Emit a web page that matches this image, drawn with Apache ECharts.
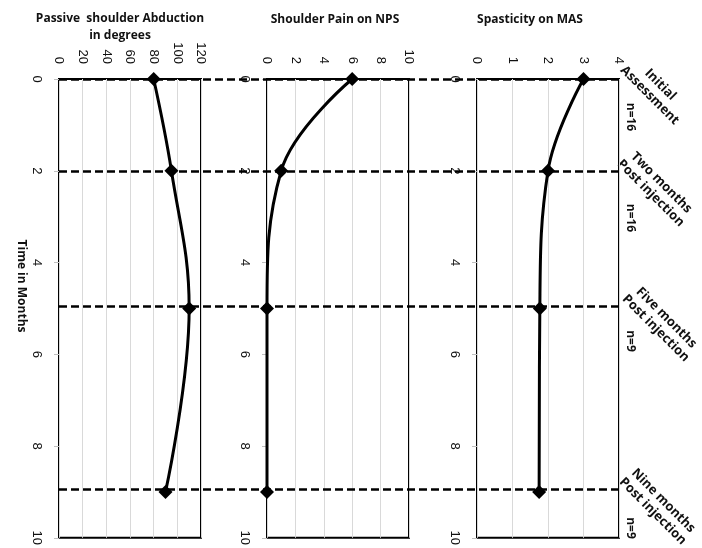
<!DOCTYPE html>
<html>
<head>
<meta charset="utf-8">
<script src="https://cdn.jsdelivr.net/npm/echarts@6/dist/echarts.min.js"></script>
<style>
  html, body { margin: 0; padding: 0; background: #fff; }
  #chart { width: 702px; height: 548px; }
</style>
</head>
<body>
<div id="chart"></div>
<script>
// months after injection at which each measure was taken
var times = [0, 2, 5, 9];
// where the dashed assessment lines sit
var assessTimes = [0, 2, 4.93, 8.9];

var abduction = [80, 95, 110, 90];   // degrees
var pain = [6, 1, 0, 0];             // NPS
var spasticity = [3, 2, 1.77, 1.75]; // MAS

var panelTitles = ["Passive  shoulder Abduction\nin degrees", "Shoulder Pain on NPS", "Spasticity on MAS"];
var valueMax = [120, 10, 4];
var valueStep = [20, 2, 1];
var timeMax = 10;
var timeStep = 2;

var assessNames = ["Initial\nAssessment", "Two months\nPost injection", "Five months\nPost injection", "Nine months\nPost injection"];
var assessN = ["n=16", "n=16", "n=9", "n=9"];

var chart = echarts.init(document.getElementById("chart"));

var gridLeft = [59, 267, 477];
var plotTop = 79, plotH = 461, plotW = 142;
var labelFont = "Liberation Sans";
var boldFont = "Open Sans";

var grids = [], xAxes = [], yAxes = [], series = [];
var panels = [abduction, pain, spasticity];

panels.forEach(function (vals, i) {
  grids.push({
    left: gridLeft[i], top: plotTop, width: plotW, height: plotH,
    show: true, borderColor: "#000", borderWidth: 2, backgroundColor: "transparent"
  });
  xAxes.push({
    gridIndex: i, type: "value", position: "top",
    min: 0, max: valueMax[i], interval: valueStep[i],
    axisLine: { show: false }, axisTick: { show: false },
    splitLine: { show: true, lineStyle: { color: "#d9d9d9", width: 1 } },
    axisLabel: { rotate: -90, margin: 15, fontSize: 13, color: "#111", fontFamily: labelFont }
  });
  yAxes.push({
    gridIndex: i, type: "value", inverse: true,
    min: 0, max: timeMax, interval: timeStep,
    axisLine: { show: false },
    axisTick: { show: true, length: 5, lineStyle: { color: "#bfbfbf" } },
    splitLine: { show: false },
    axisLabel: { rotate: -90, margin: 16, fontSize: 13, color: "#111", fontFamily: labelFont }
  });
  series.push({
    type: "line", xAxisIndex: i, yAxisIndex: i, z: 5,
    data: times.map(function (t, k) { return [vals[k], t]; }),
    smooth: 0.4,
    symbol: "diamond", symbolSize: 14,
    lineStyle: { color: "#000", width: 3 },
    itemStyle: { color: "#000" }
  });
});

// overlay grid that carries the dashed assessment lines across all panels
grids.push({ left: gridLeft[0], top: plotTop, width: gridLeft[2] + plotW - gridLeft[0], height: plotH });
xAxes.push({ gridIndex: 3, type: "value", min: 0, max: 1, show: false });
yAxes.push({ gridIndex: 3, type: "value", inverse: true, min: 0, max: timeMax, show: false });
series.push({
  type: "line", xAxisIndex: 3, yAxisIndex: 3, z: 3, data: [],
  markLine: {
    silent: true, symbol: "none", label: { show: false },
    lineStyle: { color: "#000", type: [8, 4], width: 2.5 },
    data: assessTimes.map(function (t) { return { yAxis: t }; })
  }
});

var graphics = [];
var titlePos = [[120, 10], [335, 11], [530, 11]];
panelTitles.forEach(function (t, i) {
  graphics.push({
    type: "text", x: titlePos[i][0], y: titlePos[i][1],
    style: { text: t, fill: "#111", font: "bold 12px '" + boldFont + "'", textAlign: "center", textVerticalAlign: "top", lineHeight: 17 }
  });
});

graphics.push({
  type: "text", x: 21, y: 286, rotation: -Math.PI / 2,
  style: { text: "Time in Months", fill: "#111", font: "bold 12px '" + boldFont + "'", textAlign: "center", textVerticalAlign: "middle" }
});

var namePos = [[655, 90], [656, 188], [661, 323], [658, 506]];
var nPos = [[630, 117], [630, 218], [630, 341], [630, 528]];
assessNames.forEach(function (t, i) {
  graphics.push({
    type: "text", x: namePos[i][0], y: namePos[i][1], rotation: -Math.PI / 4,
    style: { text: t, fill: "#111", font: "bold 13px '" + boldFont + "'", textAlign: "center", textVerticalAlign: "middle", lineHeight: 15 }
  });
  graphics.push({
    type: "text", x: nPos[i][0], y: nPos[i][1], rotation: -Math.PI / 2,
    style: { text: assessN[i], fill: "#111", font: "bold 12px '" + boldFont + "'", textAlign: "center", textVerticalAlign: "middle" }
  });
});

chart.setOption({
  animation: false,
  backgroundColor: "#fff",
  grid: grids,
  xAxis: xAxes,
  yAxis: yAxes,
  series: series,
  graphic: graphics
});
</script>
</body>
</html>
